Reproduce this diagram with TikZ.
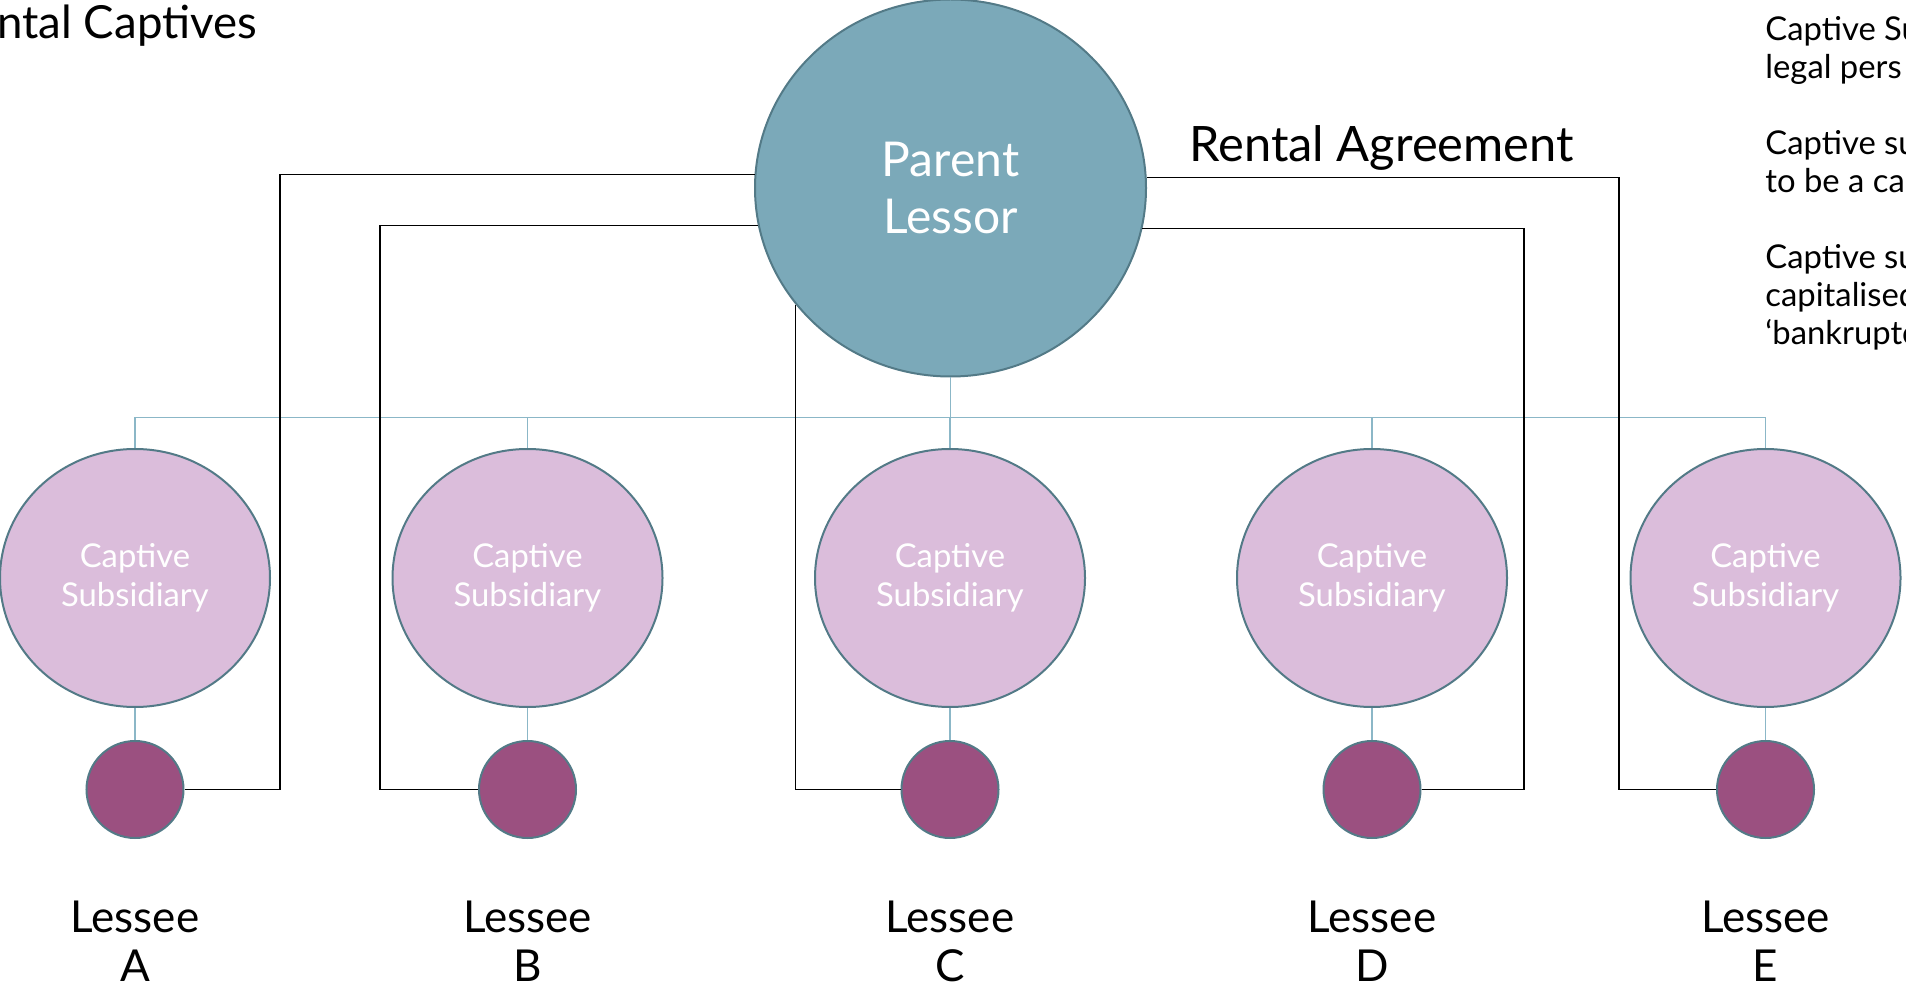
\documentclass[tikz,border=0pt]{standalone}
\usepackage{fontspec}
\setmainfont{Lato}
\usetikzlibrary{positioning,shapes.geometric}
\definecolor{lessorfill}{RGB}{123,169,185}
\definecolor{rimteal}{RGB}{83,122,135}
\definecolor{captivefill}{RGB}{219,189,219}
\definecolor{lesseefill}{RGB}{155,80,128}
\definecolor{busblue}{RGB}{139,183,199}

\begin{document}
\begin{tikzpicture}[x=0.5pt,y=-0.5pt,align=center,
    blob/.style={ellipse,draw=rimteal,line width=1pt,inner sep=0pt},
    lessor/.style={blob,fill=lessorfill,text=white,minimum width=195.5pt,minimum height=188.5pt,font=\fontsize{24}{28.5}\selectfont},
    captive/.style={blob,fill=captivefill,text=white,minimum width=135pt,minimum height=129pt,font=\fontsize{16.4}{19.5}\selectfont},
    lessee/.style={blob,fill=lesseefill,minimum width=48.5pt,minimum height=48.5pt},
    lesseename/.style={inner sep=0pt,font=\fontsize{22}{24.5}\selectfont},
    lease/.style={draw=black,line width=0.7pt},
    bus/.style={draw=busblue,line width=0.6pt}]
      \useasboundingbox (0,0) rectangle (1906,983);
      \clip (0,0) rectangle (1906,983);

      \node[inner sep=0pt,anchor=base west,font=\fontsize{22.8}{27}\selectfont] (title) at (-3,39) {ntal Captives};
      \node[inner sep=0pt,anchor=north west,align=left,font=\fontsize{16.4}{19}\selectfont] (notes) at (1765,16)
      {Captive Su\\legal pers\\[19pt]Captive su\\to be a ca\\[19pt]Captive su\\capitalised\\‘bankruptc};

      \node[lessor] (parent) at (950.5,188) {Parent\\Lessor};
      \coordinate[below=20pt of parent] (hub);
      \draw[bus] (parent.south) -- (hub);

      \foreach \n/\x in {A/135,B/527.5,C/950,D/1372,E/1765.5}{
        \node[captive] (cap\n) at (\x,578) {Captive\\Subsidiary};
        \node[lessee,below=16pt of cap\n] (les\n) {};
        \node[lesseename,below=31pt of les\n] (name\n) {Lessee\\\n};
        \draw[bus] (cap\n.north) |- (hub);
        \draw[bus] (cap\n.south) -- (les\n.north);
      }

      % rental lines from the lessor to each lessee
      \coordinate (railA) at (280,400);
      \coordinate (railB) at (380,400);
      \coordinate (railD) at (1524,400);
      \coordinate (railE) at (1619,400);
      \draw[lease] (parent.176) -| (railA) |- (lesA.east);
      \draw[lease] (parent.191.5) -| (railB) |- (lesB.west);
      \draw[lease] (parent.217) |- (lesC.west);
      \draw[lease] (parent.348) -| (railD) |- (lesD.east);
      \draw[lease] (parent.3) -| (railE) |- (lesE.west);

      \node[inner sep=0pt,anchor=base west,font=\fontsize{24.4}{29}\selectfont] (rental) at (1189,162) {Rental Agreement};
    \end{tikzpicture}
\end{document}
